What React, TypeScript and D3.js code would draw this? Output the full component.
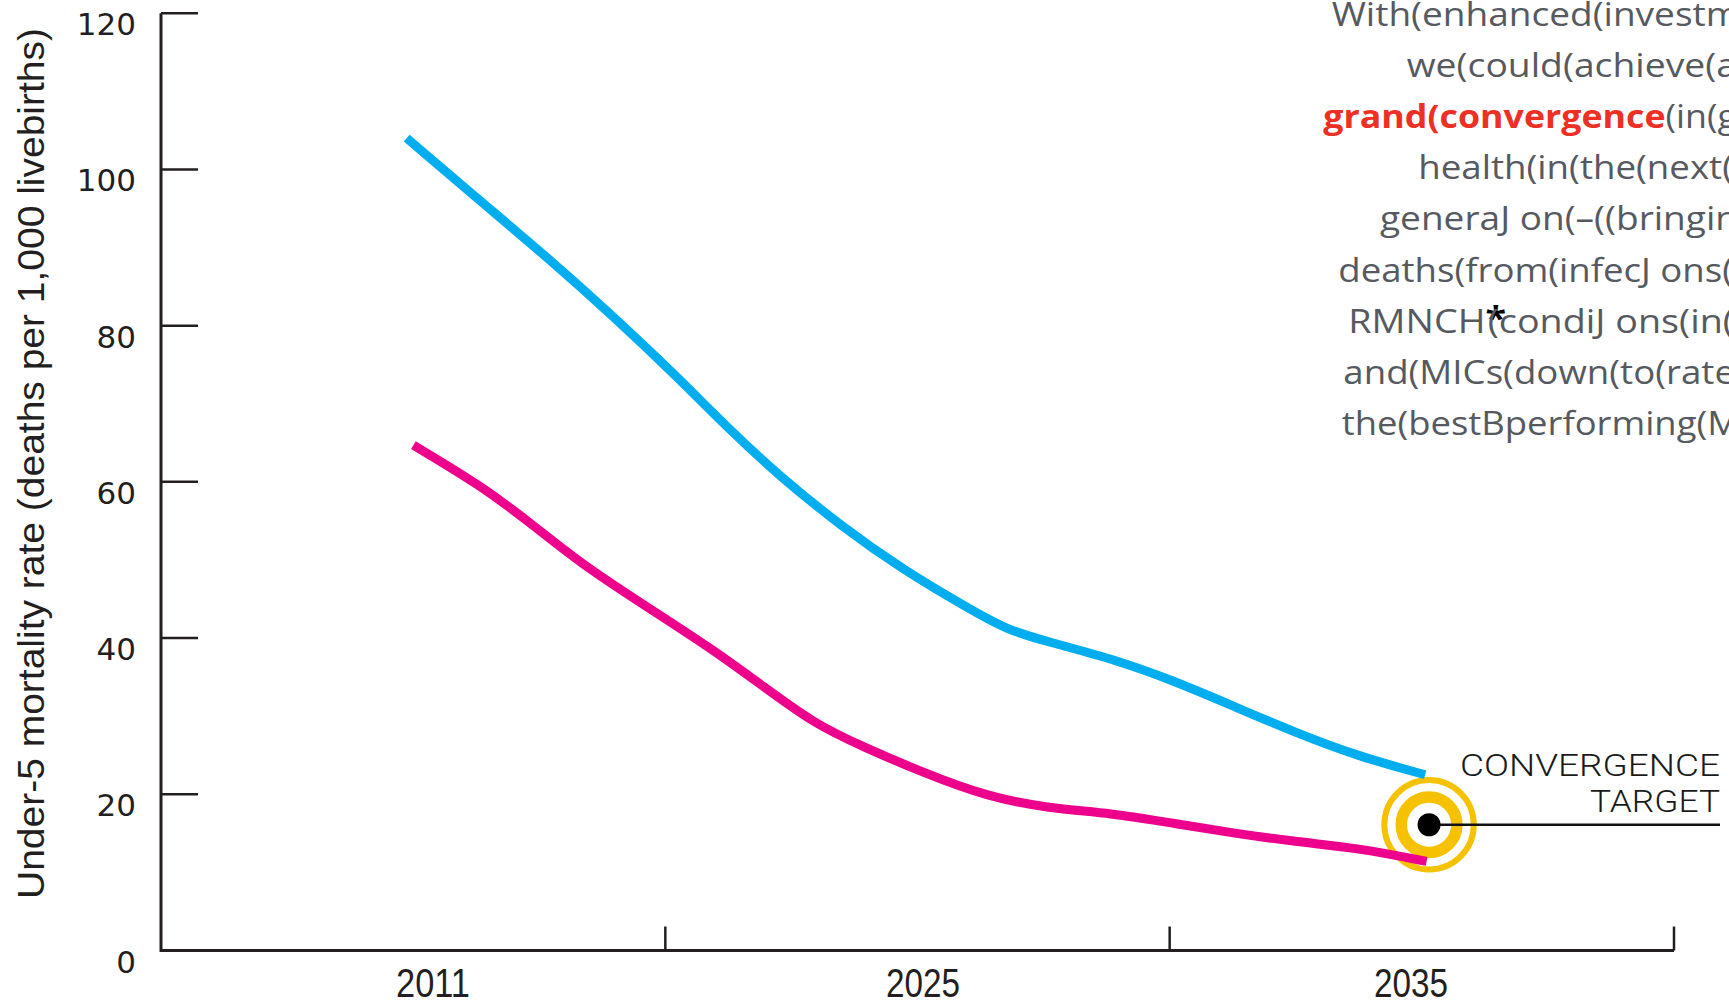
import React from "react";
import * as d3 from "d3";

// ---------- data ----------
const yearLabels = [2011, 2025, 2035];
const yTicks = [0, 20, 40, 60, 80, 100, 120];

const blueYears = [2010.25, 2012.34, 2014.25, 2016.15, 2017.94, 2019.49, 2020.91, 2022.67, 2024.45, 2025.88, 2026.73, 2027.58, 2028.85, 2030.12, 2031.39, 2032.67, 2033.95, 2035.29];
const blueValues = [104.0, 96.0, 88.8, 81.2, 73.6, 66.6, 60.7, 54.3, 48.7, 44.0, 41.0, 39.5, 37.4, 34.6, 31.2, 27.8, 24.8, 22.5];

const pinkYears = [2010.44, 2012.34, 2013.77, 2015.2, 2017.11, 2019.01, 2020.44, 2021.87, 2023.27, 2025.03, 2026.31, 2027.58, 2028.85, 2030.12, 2031.39, 2032.67, 2033.95, 2035.32];
const pinkValues = [64.7, 59.6, 54.8, 49.6, 44.0, 38.5, 33.8, 29.1, 26.1, 22.7, 19.7, 18.2, 17.6, 16.3, 15.0, 13.9, 13.1, 11.4];

const targetYear = 2035.37;
const targetValue = 16.1;
const targetLabel = ["CONVERGENCE", "TARGET"];

const yTitle = "Under-5 mortality rate (deaths per 1,000 livebirths)";

const noteLines = [
  "With(enhanced(investm",
  "we(could(achieve(a",
  "grand(convergence(in(g",
  "health(in(the(next(",
  "generaJ on(–((bringin",
  "deaths(from(infecJ ons(",
  "RMNCH(condiJ ons(in(",
  "and(MICs(down(to(rate",
  "the(bestBperforming(M",
];
const noteHighlight = "grand(convergence";
const noteStarLineHead = "RMNCH";
const noteStar = "*";
const noteStartX = [1331.7, 1406.7, 1323.3, 1418.3, 1380, 1338.3, 1348.3, 1343.3, 1341.7];
const noteEndX = [1740, 1737, 1737, 1733, 1738, 1733, 1734, 1735, 1740];

// ---------- styles ----------
const BLUE = "#00aeef";
const PINK = "#ec008c";
const YELLOW = "#f6c200";
const INK = "#231f20";
const NOTE_GRAY = "#565a60";
const NOTE_RED = "#ee2f24";

export default function App() {
  const W = 1729;
  const H = 1007;
  const frameLeft = 161;
  const frameRight = 1674;

  const y = d3.scaleLinear().domain([0, 120]).range([950.5, 13.2]);
  const x = d3.scaleLinear().domain([2011, 2025, 2035]).range([433, 923, 1411]);

  const line = d3
    .line<[number, number]>()
    .x((d) => x(d[0]))
    .y((d) => y(d[1]))
    .curve(d3.curveBasis);

  const blue: [number, number][] = blueYears.map((yr, i) => [yr, blueValues[i]]);
  const pink: [number, number][] = pinkYears.map((yr, i) => [yr, pinkValues[i]]);

  const y0 = y(0);
  const xTicks = d3.range(4).map((i) => frameLeft + (i * (frameRight - frameLeft)) / 3).slice(1);

  const tx = x(targetYear);
  const ty = y(targetValue);

  const yTitleTop = 28;
  const yTitleBottom = 899;

  const noteFont = "'Open Sans', sans-serif";

  return (
    <svg
      width={W}
      height={H}
      viewBox={`0 0 ${W} ${H}`}
      style={{ position: "absolute", left: 0, top: 0, background: "#fff" }}
    >
      <rect x={0} y={0} width={W} height={H} fill="#fff" />

      {/* Y axis title */}
      <text
        transform={`translate(44, ${(yTitleTop + yTitleBottom) / 2}) rotate(-90)`}
        textAnchor="middle"
        fontFamily="'Liberation Sans', Arial, sans-serif"
        fontSize={37}
        fill={INK}
        textLength={yTitleBottom - yTitleTop}
        lengthAdjust="spacingAndGlyphs"
      >
        {yTitle}
      </text>

      {/* Y ticks and labels */}
      {yTicks.map((t) => (
        <g key={t}>
          {t > 0 && (
            <line x1={frameLeft} x2={frameLeft + 37} y1={y(t)} y2={y(t)} stroke={INK} strokeWidth={2.5} />
          )}
          <text
            x={136}
            y={y(t) + 22}
            textAnchor="end"
            fontFamily="'DejaVu Sans', sans-serif"
            fontSize={31}
            fill={INK}
          >
            {t}
          </text>
        </g>
      ))}

      {/* axes */}
      <line x1={frameLeft} x2={frameLeft} y1={y(120)} y2={y0 + 1.5} stroke={INK} strokeWidth={3} />
      <line x1={frameLeft} x2={frameRight} y1={y0} y2={y0} stroke={INK} strokeWidth={3} />
      {xTicks.map((px, i) => (
        <line key={i} x1={px} x2={px} y1={y0} y2={y0 - 24} stroke={INK} strokeWidth={2.5} />
      ))}

      {/* X labels */}
      {yearLabels.map((yr) => (
        <text
          key={yr}
          x={x(yr) - 37}
          y={997}
          fontFamily="'Liberation Sans', Arial, sans-serif"
          fontSize={40}
          fill={INK}
          textLength={74}
          lengthAdjust="spacingAndGlyphs"
        >
          {yr}
        </text>
      ))}

      {/* target rings */}
      <circle cx={tx} cy={ty} r={44.7} fill="none" stroke={YELLOW} strokeWidth={6} />
      <circle cx={tx} cy={ty} r={27.8} fill="none" stroke={YELLOW} strokeWidth={11.5} />

      {/* series */}
      <path d={line(blue) ?? ""} fill="none" stroke={BLUE} strokeWidth={9} strokeLinecap="butt" />
      <path d={line(pink) ?? ""} fill="none" stroke={PINK} strokeWidth={9} strokeLinecap="butt" />

      {/* target dot + leader */}
      <line x1={tx} x2={1720} y1={ty} y2={ty} stroke="#111" strokeWidth={2.5} />
      <circle cx={tx} cy={ty} r={11.5} fill="#000" />

      <text
        x={1720 - 260}
        y={776}
        fontFamily="Roboto, 'Liberation Sans', sans-serif"
        fontWeight={300}
        fontSize={32}
        fill="#1a1a1a"
        textLength={260}
        lengthAdjust="spacingAndGlyphs"
      >
        {targetLabel[0]}
      </text>
      <text
        x={1720 - 130}
        y={811.7}
        fontFamily="Roboto, 'Liberation Sans', sans-serif"
        fontWeight={300}
        fontSize={32}
        fill="#1a1a1a"
        textLength={130}
        lengthAdjust="spacingAndGlyphs"
      >
        {targetLabel[1]}
      </text>

      {/* note text */}
      {noteLines.map((ln, i) => {
        const by = 26 + i * 51.1;
        const len = noteEndX[i] - noteStartX[i];
        if (ln.startsWith(noteHighlight)) {
          return (
            <text
              key={i}
              x={noteStartX[i]}
              y={by}
              fontFamily={noteFont}
              fontSize={33}
              textLength={len}
              lengthAdjust="spacingAndGlyphs"
            >
              <tspan fill={NOTE_RED} fontWeight={700}>
                {noteHighlight}
              </tspan>
              <tspan fill={NOTE_GRAY}>{ln.slice(noteHighlight.length)}</tspan>
            </text>
          );
        }
        if (ln.startsWith(noteStarLineHead)) {
          return (
            <text
              key={i}
              x={noteStartX[i]}
              y={by}
              fontFamily={noteFont}
              fontSize={33}
              fill={NOTE_GRAY}
              textLength={len}
              lengthAdjust="spacingAndGlyphs"
            >
              <tspan>{noteStarLineHead}</tspan>
              <tspan fill="#000" fontWeight={700} dy={-3}>
                {noteStar}
              </tspan>
              <tspan dx={-16} dy={3}>
                {ln.slice(noteStarLineHead.length)}
              </tspan>
            </text>
          );
        }
        return (
          <text
            key={i}
            x={noteStartX[i]}
            y={by}
            fontFamily={noteFont}
            fontSize={33}
            fill={NOTE_GRAY}
            textLength={len}
            lengthAdjust="spacingAndGlyphs"
          >
            {ln}
          </text>
        );
      })}
    </svg>
  );
}
